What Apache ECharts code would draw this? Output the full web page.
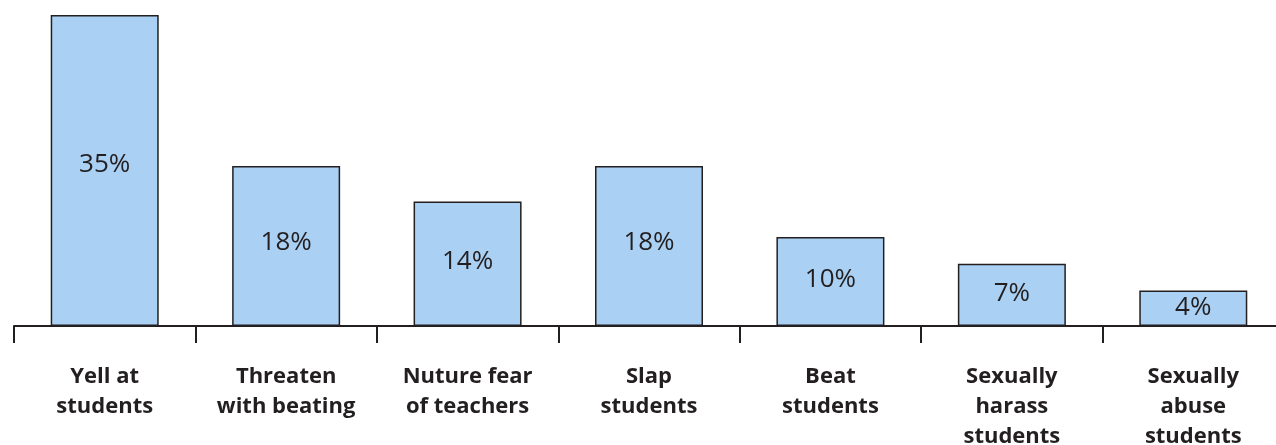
<!DOCTYPE html>
<html><head><meta charset="utf-8">
<script src="https://cdn.jsdelivr.net/npm/echarts@6/dist/echarts.min.js"></script>
<style>html,body{margin:0;padding:0;background:#fff}#c{width:1276px;height:445px}</style>
</head><body><div id="c"></div>
<script>
const categories = ["Yell at\nstudents", "Threaten\nwith beating", "Nuture fear\nof teachers", "Slap\nstudents", "Beat\nstudents", "Sexually\nharass\nstudents", "Sexually\nabuse\nstudents"];
const values = [35, 18, 14, 18, 10, 7, 4];
const valueLabels = ["35%", "18%", "14%", "18%", "10%", "7%", "4%"];

const chart = echarts.init(document.getElementById('c'), null, {renderer: 'canvas'});
chart.setOption({
  animation: false,
  grid: {left: 14, width: 1270, top: 6, bottom: 119, containLabel: false, outerBoundsMode: 'none'},
  xAxis: {
    type: 'category', data: categories,
    axisLine: {lineStyle: {color: '#231f20', width: 2}},
    axisTick: {show: true, length: 17, lineStyle: {color: '#231f20', width: 2}},
    axisLabel: {interval: 0, margin: 36, color: '#231f20', fontFamily: 'Open Sans', fontWeight: 'bold', fontSize: 22, lineHeight: 30}
  },
  yAxis: {type: 'value', min: 0, max: 36, show: false, splitLine: {show: false}},
  series: [{
    type: 'bar', data: values, barWidth: 108,
    itemStyle: {color: '#aad0f4', borderColor: '#231f20', borderWidth: 1.5},
    label: {show: true, position: ['50%', '48%'], align: 'center', verticalAlign: 'middle', color: '#231f20', fontFamily: 'Open Sans', fontSize: 26,
      formatter: p => valueLabels[p.dataIndex]}
  }]
});
</script></body></html>
